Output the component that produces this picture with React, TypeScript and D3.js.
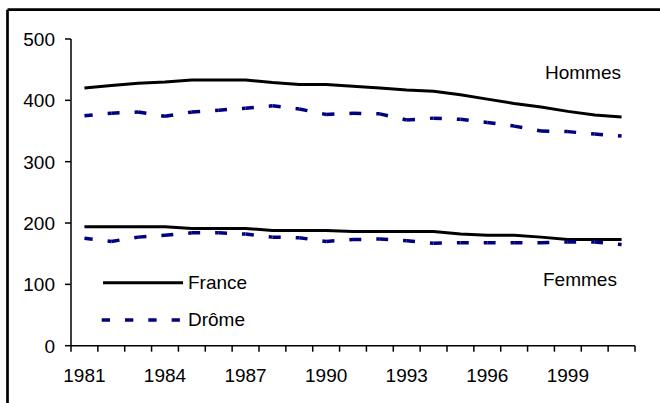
import React from "react";
import * as d3 from "d3";

const years = d3.range(1981, 2002).map(String);
const franceHommes = [420, 424, 428, 430, 433, 433, 433, 429, 426, 426, 423, 420, 417, 415, 409, 402, 395, 389, 382, 376, 373];
const dromeHommes = [375, 379, 381, 374, 381, 384, 387, 391, 386, 377, 379, 378, 368, 371, 369, 364, 358, 350, 349, 345, 342];
const franceFemmes = [194, 194, 194, 194, 191, 191, 191, 188, 188, 188, 186, 186, 186, 186, 182, 180, 180, 177, 173, 173, 173];
const dromeFemmes = [175, 170, 177, 180, 184, 184, 182, 177, 176, 170, 173, 174, 171, 167, 168, 168, 168, 168, 169, 169, 165];
const yTicks = [0, 100, 200, 300, 400, 500];
const xLabelYears = ["1981", "1984", "1987", "1990", "1993", "1996", "1999"];
const legendItems = ["France", "Drôme"];

const W = 660;
const H = 403;
const FONT = "'Liberation Sans', Arial, sans-serif";
const NAVY = "#000080";

export default function App() {
  const x = d3.scaleBand<string>().domain(years).range([71, 635]);
  const y = d3.scaleLinear().domain([0, 500]).range([345.7, 39]);
  const cx = (yr: string) => (x(yr) as number) + x.bandwidth() / 2;
  const line = d3.line<number>().x((_, i) => cx(years[i])).y((v) => y(v));

  const segPath = (vals: number[], i: number) =>
    `M${cx(years[i])},${y(vals[i])}L${cx(years[i + 1])},${y(vals[i + 1])}`;

  const drawDashed = (vals: number[]) =>
    vals.slice(0, -1).map((_, i) => (
      <path
        key={i}
        d={segPath(vals, i)}
        fill="none"
        stroke={NAVY}
        strokeWidth={3.5}
        strokeDasharray="8.3 15"
      />
    ));

  const tickEdges = years.map((yr) => x(yr) as number).concat([635]);

  return (
    <svg
      width={W}
      height={H}
      style={{ position: "absolute", left: 0, top: 0, background: "#fff" }}
      fontFamily={FONT}
    >
      <rect x={0} y={0} width={W} height={H} fill="#fff" />
      <line x1={7.5} y1={9.7} x2={W} y2={9.7} stroke="#000" strokeWidth={2.7} />
      <line x1={7.5} y1={9.7} x2={7.5} y2={H} stroke="#000" strokeWidth={2.7} />

      <line x1={71} y1={y(500)} x2={71} y2={y(0)} stroke="#000" strokeWidth={1.5} />
      {yTicks.map((t) => (
        <g key={t}>
          <line x1={65} x2={71} y1={y(t)} y2={y(t)} stroke="#000" strokeWidth={1.5} />
          <text x={55} y={y(t)} dy="0.36em" textAnchor="end" fontSize={19} fill="#000">
            {t}
          </text>
        </g>
      ))}

      <line x1={71} y1={y(0)} x2={635} y2={y(0)} stroke="#000" strokeWidth={1.5} />
      {tickEdges.map((e, i) => (
        <line key={i} x1={e} x2={e} y1={y(0)} y2={y(0) + 6} stroke="#000" strokeWidth={1.5} />
      ))}
      {xLabelYears.map((yr) => (
        <text key={yr} x={cx(yr)} y={382} textAnchor="middle" fontSize={19} fill="#000">
          {yr}
        </text>
      ))}

      <path d={line(franceHommes) || ""} fill="none" stroke="#000" strokeWidth={3} />
      <path d={line(franceFemmes) || ""} fill="none" stroke="#000" strokeWidth={3} />
      {drawDashed(dromeHommes)}
      {drawDashed(dromeFemmes)}

      <text x={545} y={71.7} dy="0.36em" fontSize={19} fill="#000">Hommes</text>
      <text x={543} y={279.3} dy="0.36em" fontSize={19} fill="#000">Femmes</text>

      <line x1={103} x2={183} y1={282.7} y2={282.7} stroke="#000" strokeWidth={3} />
      <text x={188} y={281.7} dy="0.36em" fontSize={19} fill="#000">{legendItems[0]}</text>
      <line
        x1={101.7}
        x2={180}
        y1={320}
        y2={320}
        stroke={NAVY}
        strokeWidth={3.5}
        strokeDasharray="8.3 15"
      />
      <text x={188} y={319} dy="0.36em" fontSize={19} fill="#000">{legendItems[1]}</text>
    </svg>
  );
}
